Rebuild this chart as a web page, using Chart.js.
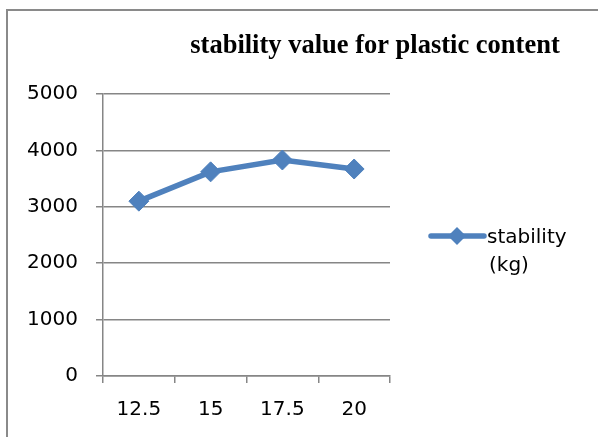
<!DOCTYPE html>
<html>
<head>
<meta charset="utf-8">
<script src="https://cdn.jsdelivr.net/npm/chart.js@4.4.1/dist/chart.umd.min.js"></script>
<style>
    html, body { margin: 0; padding: 0; background: #fff; overflow: hidden; }
    #frame { position: absolute; left: 6px; top: 9px; width: 700px; height: 500px; border: 2px solid #8a8a8a; }
    #wrap { position: absolute; left: 0; top: 0; width: 598px; height: 437px; }
</style>
</head>
<body>
<div id="frame"></div>
<div id="wrap"><canvas id="chart" width="598" height="437"></canvas></div>
<script>
const categories = ['12.5', '15', '17.5', '20'];
const stabilityValues = [3100, 3620, 3830, 3670];
const yTicks = [0, 1000, 2000, 3000, 4000, 5000];
const seriesName = ['stability', '(kg)'];
const chartTitle = 'stability value for plastic content';

const blue = '#4f81bd';
const gridGray = '#868686';
const tickFont = { family: 'DejaVu Sans', size: 20 };

// title and legend are placed by hand, like the Excel layout
const extrasPlugin = {
    id: 'extras',
    afterDraw(chart) {
        const ctx = chart.ctx;
        ctx.save();
        ctx.fillStyle = '#000';
        ctx.font = 'bold 26.5px "Liberation Serif"';
        ctx.textAlign = 'center';
        ctx.textBaseline = 'alphabetic';
        ctx.fillText(chartTitle, 375, 53);

        // legend sample
        ctx.strokeStyle = blue;
        ctx.lineWidth = 5.5;
        ctx.lineCap = 'round';
        ctx.beginPath();
        ctx.moveTo(431, 236);
        ctx.lineTo(484, 236);
        ctx.stroke();
        ctx.fillStyle = blue;
        ctx.beginPath();
        ctx.moveTo(457, 227);
        ctx.lineTo(466, 236);
        ctx.lineTo(457, 245);
        ctx.lineTo(448, 236);
        ctx.closePath();
        ctx.fill();

        ctx.fillStyle = '#000';
        ctx.font = '20px "DejaVu Sans"';
        ctx.textAlign = 'left';
        ctx.fillText(seriesName[0], 487, 243);
        ctx.fillText(seriesName[1], 489, 271);
        ctx.restore();
    }
};

const ctx = document.getElementById('chart').getContext('2d');
new Chart(ctx, {
    type: 'line',
    data: {
        labels: categories,
        datasets: [{
            label: seriesName.join(' '),
            data: stabilityValues,
            borderColor: blue,
            backgroundColor: blue,
            borderWidth: 5.5,
            pointStyle: 'rectRot',
            pointRadius: 10,
            pointBorderWidth: 1,
            tension: 0
        }]
    },
    options: {
        responsive: false,
        animation: false,
        layout: { padding: { left: 0, top: 94, right: 208, bottom: 0 } },
        plugins: {
            legend: { display: false },
            title: { display: false },
            tooltip: { enabled: false }
        },
        scales: {
            x: {
                offset: true,
                grid: { offset: true, drawOnChartArea: false, drawTicks: true, tickLength: 7, color: gridGray, lineWidth: 1.5 },
                border: { color: gridGray, width: 1.5 },
                ticks: { color: '#000', font: tickFont, padding: 15, maxRotation: 0 },
                afterFit: s => { s.height = 61; }
            },
            y: {
                min: 0,
                max: 5000,
                afterBuildTicks: s => { s.ticks = yTicks.map(v => ({ value: v })); },
                grid: { color: gridGray, lineWidth: 1.5, tickLength: 7 },
                border: { color: gridGray, width: 1.5 },
                ticks: { color: '#000', font: tickFont, padding: 18, callback: v => String(v) },
                afterFit: s => { s.width = 103; }
            }
        }
    },
    plugins: [extrasPlugin]
});
</script>
</body>
</html>
